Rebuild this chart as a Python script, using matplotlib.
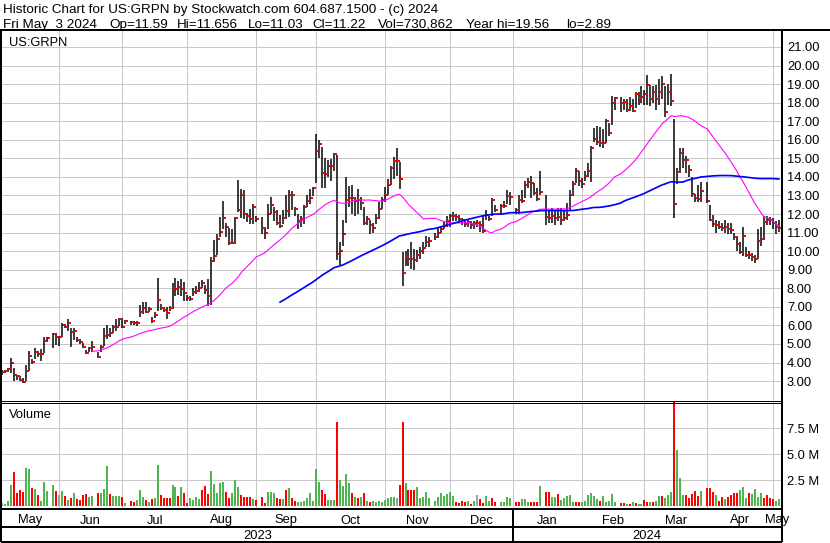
import numpy as np
import pandas as pd
import matplotlib
matplotlib.use('Agg')
import matplotlib.pyplot as plt
from matplotlib.lines import Line2D
from matplotlib import transforms

plt.rcParams['font.family'] = ['Liberation Sans', 'DejaVu Sans']

W, H = 830, 543

# market holidays: kept as empty weekday slots on the chart
holidays = ['2023-05-29', '2023-06-19', '2023-07-04', '2023-09-04', '2023-11-23',
            '2023-12-25', '2024-01-01', '2024-01-15', '2024-02-19', '2024-03-29']

# daily bars, May 5 2023 .. May 3 2024 (one line per month)
high = [
    3.60, 3.60, 3.70, 4.23, 3.70, 3.35, 3.25, 3.15, 3.85, 4.60, 4.20, 4.80, 4.60, 4.75, 5.40, 5.40, 5.59, 5.57,
    5.44, 6.13, 6.07, 6.34, 5.84, 5.84, 5.40, 5.26, 5.05, 4.67, 4.86, 5.14, 4.58, 4.94, 5.84, 6.02, 5.84, 6.02, 6.34, 6.40, 6.40,
    6.31, 6.25, 6.22, 6.25, 7.12, 7.24, 7.28, 6.97, 6.43, 6.70, 8.55, 7.15, 6.97, 7.00, 7.05, 8.30, 8.54, 8.40, 8.50, 8.32,
    7.65, 7.60, 8.00, 8.10, 8.32, 8.46, 8.20, 8.50, 9.70, 10.58, 10.90, 11.83, 12.68, 11.53, 11.26, 11.21, 11.85, 13.81, 13.36, 13.31, 12.07, 12.28, 12.55,
    11.89, 11.83, 11.30, 12.55, 12.91, 12.40, 12.19, 11.96, 12.19, 13.00, 13.27, 13.24, 12.37, 12.01, 11.92, 12.50, 13.00, 13.36, 13.45, 16.30,
    16.00, 15.60, 15.00, 14.90, 14.95, 15.30, 15.20, 10.50, 11.70, 13.98, 13.50, 13.54, 12.90, 13.36, 12.90, 12.37, 11.92, 11.66, 11.50, 12.00, 12.64, 12.90,
    13.45, 13.90, 14.60, 15.07, 15.55, 14.80, 9.95, 9.99, 10.10, 10.50, 10.13, 10.04, 10.20, 10.50, 10.80, 10.78, 11.00, 11.30, 11.33, 11.55, 11.90,
    12.00, 12.10, 12.00, 11.95, 11.80, 11.75, 11.70, 11.60, 11.65, 11.70, 11.60, 11.90, 12.20, 11.90, 12.85, 12.50, 12.55, 12.70, 13.30, 13.20,
    12.32, 13.04, 13.30, 13.76, 13.94, 14.05, 13.67, 13.40, 14.30, 13.04, 12.20, 12.34, 12.20, 12.34, 12.30, 12.20, 12.60, 13.30, 13.76, 14.50, 14.30,
    13.94, 14.30, 14.75, 15.65, 16.62, 16.76, 16.70, 16.60, 17.10, 16.90, 18.35, 18.30, 18.30, 18.20, 18.20, 18.30, 18.20, 18.60, 18.55, 18.90,
    18.70, 19.50, 18.95, 18.90, 18.95, 19.30, 19.45, 18.90, 19.00, 19.56, 17.10, 14.50, 15.54, 15.54, 15.10, 14.65, 14.00, 13.10, 13.55, 13.75,
    13.70, 12.50, 11.95, 11.70, 11.60, 11.50, 11.70, 11.50, 11.50, 11.00, 10.80, 10.50, 11.30, 10.20, 10.00, 9.90, 9.80, 11.20, 11.30, 11.90, 11.90, 11.85,
    11.80, 11.60, 11.656,
]
low = [
    3.35, 3.45, 3.50, 3.45, 2.98, 3.05, 3.00, 2.89, 2.98, 3.55, 3.90, 4.20, 4.30, 4.10, 4.50, 5.10, 4.76, 4.94,
    4.90, 5.37, 5.84, 5.71, 4.85, 5.20, 5.08, 5.00, 4.76, 4.45, 4.54, 4.54, 4.22, 4.58, 4.90, 5.26, 5.40, 5.59, 5.71, 5.98, 5.84,
    6.07, 6.02, 6.02, 5.95, 6.43, 6.61, 6.67, 6.70, 6.13, 6.38, 6.80, 6.85, 6.70, 6.34, 6.80, 6.88, 7.60, 7.64, 7.60, 7.33,
    7.33, 7.30, 7.60, 7.70, 7.80, 8.00, 7.70, 7.06, 7.10, 9.40, 9.80, 10.76, 11.21, 10.76, 10.31, 10.40, 10.40, 12.10, 11.78, 11.74, 11.57, 11.48, 11.48,
    11.57, 10.94, 10.67, 11.21, 12.01, 11.60, 11.39, 11.24, 11.48, 11.74, 11.83, 12.19, 11.92, 11.20, 11.30, 11.48, 12.37, 12.55, 12.95, 13.65,
    15.00, 13.40, 13.40, 14.00, 13.80, 14.30, 9.50, 9.25, 10.30, 11.50, 12.40, 12.01, 11.90, 12.00, 12.20, 11.39, 11.39, 10.94, 11.00, 11.48, 11.74, 12.28,
    12.64, 13.00, 13.54, 13.90, 14.07, 13.36, 8.10, 9.20, 9.20, 9.05, 9.00, 9.40, 9.60, 9.85, 10.20, 10.20, 10.60, 10.70, 11.00, 11.20, 11.30,
    11.30, 11.60, 11.60, 11.50, 11.40, 11.30, 11.30, 11.20, 11.20, 11.30, 11.05, 11.00, 11.70, 11.60, 11.90, 12.10, 11.95, 12.30, 12.55, 12.50,
    12.00, 12.00, 12.60, 12.86, 13.40, 12.86, 13.04, 12.68, 13.04, 11.42, 11.50, 11.50, 11.42, 11.60, 11.42, 11.60, 11.69, 12.20, 12.95, 13.67, 13.49,
    13.40, 13.80, 14.00, 13.70, 15.90, 15.70, 15.60, 15.55, 15.80, 16.20, 16.80, 17.60, 17.50, 17.60, 17.50, 17.55, 17.50, 17.70, 17.90, 18.00,
    17.90, 17.90, 17.80, 18.00, 17.60, 17.90, 18.20, 17.20, 17.90, 17.80, 11.80, 13.60, 14.20, 14.50, 14.20, 14.00, 12.90, 12.65, 12.65, 12.65,
    12.60, 11.60, 11.30, 11.00, 11.20, 11.10, 11.00, 10.90, 10.90, 10.60, 10.00, 9.85, 9.75, 9.70, 9.55, 9.45, 9.35, 9.60, 10.30, 10.60, 11.40, 11.40,
    11.20, 10.95, 11.03,
]
close = [
    3.49, 3.53, 3.63, 3.95, 3.31, 3.27, 3.05, 2.95, 3.55, 4.36, 4.04, 4.54, 4.45, 4.45, 5.17, 5.33, 5.55, 5.37,
    5.37, 6.04, 5.93, 6.13, 5.66, 5.71, 5.23, 5.08, 4.85, 4.50, 4.76, 4.86, 4.27, 4.81, 5.44, 5.50, 5.57, 5.91, 5.93, 6.34, 5.91,
    6.22, 6.20, 6.11, 6.13, 6.74, 6.92, 6.74, 6.88, 6.22, 6.56, 7.39, 6.96, 6.84, 6.66, 6.91, 7.99, 7.95, 8.08, 7.95, 7.74,
    7.50, 7.41, 7.81, 7.86, 8.00, 8.26, 7.92, 7.59, 9.49, 9.76, 10.66, 11.03, 11.78, 11.30, 10.45, 10.45, 11.78, 12.19, 13.00, 12.01, 11.89, 11.71, 12.36,
    11.74, 11.24, 10.99, 12.01, 12.46, 12.10, 11.53, 11.35, 11.78, 12.14, 13.00, 13.00, 12.25, 11.60, 11.71, 12.37, 12.70, 12.86, 13.40, 15.37,
    15.77, 14.23, 14.16, 14.56, 14.56, 15.24, 9.86, 9.99, 10.95, 12.75, 12.84, 12.88, 12.68, 12.77, 12.60, 11.50, 11.74, 11.42, 11.22, 11.78, 12.28, 12.77,
    13.00, 13.58, 14.49, 14.85, 14.85, 13.90, 8.84, 9.68, 9.60, 9.55, 9.50, 9.80, 9.99, 10.18, 10.49, 10.52, 10.78, 10.96, 11.21, 11.33, 11.60,
    11.89, 11.92, 11.83, 11.74, 11.66, 11.48, 11.55, 11.42, 11.50, 11.50, 11.42, 11.10, 11.94, 11.74, 12.77, 12.19, 12.45, 12.45, 12.95, 12.90,
    12.23, 12.77, 12.72, 13.58, 13.70, 13.67, 13.13, 12.82, 13.20, 11.83, 11.81, 11.87, 11.78, 11.83, 11.69, 11.78, 11.96, 13.04, 13.64, 14.34, 13.76,
    13.64, 14.06, 14.30, 15.56, 16.04, 15.90, 15.85, 15.80, 17.00, 16.36, 17.99, 18.26, 17.96, 18.01, 17.60, 17.84, 17.55, 18.45, 18.27, 18.30,
    18.45, 18.95, 18.20, 18.60, 18.20, 18.60, 19.00, 17.50, 18.55, 18.10, 12.55, 14.28, 15.30, 14.91, 14.91, 14.37, 13.08, 12.84, 12.79, 13.24,
    12.70, 11.69, 11.47, 11.40, 11.29, 11.24, 11.29, 11.20, 11.15, 10.76, 10.40, 9.93, 10.83, 9.80, 9.77, 9.71, 9.60, 10.56, 10.67, 11.55, 11.69, 11.69,
    11.50, 11.30, 11.22,
]
# volume in millions of shares
volume = [
    0.29, 0.20, 0.50, 2.05, 3.30, 1.25, 1.60, 1.40, 3.70, 3.60, 1.80, 1.70, 1.10, 0.50, 2.30, 1.50, 2.05, 1.50,
    1.10, 1.50, 1.00, 0.60, 0.80, 1.25, 0.70, 0.60, 1.10, 1.15, 0.90, 1.00, 1.25, 1.25, 1.70, 3.90, 1.20, 0.95, 0.95, 0.95, 0.85,
    0.30, 0.55, 0.40, 0.60, 1.60, 0.90, 0.60, 0.40, 0.70, 0.80, 4.00, 1.10, 0.80, 0.80, 0.80, 2.05, 1.90, 1.00, 1.85, 1.30,
    0.30, 0.80, 0.60, 0.90, 0.70, 1.55, 1.95, 1.20, 3.40, 2.10, 1.30, 2.20, 2.30, 1.40, 0.80, 1.30, 2.50, 1.90, 1.10, 0.85, 0.85, 0.85, 0.70,
    0.60, 0.93, 0.30, 1.40, 1.35, 1.30, 0.80, 0.70, 0.70, 1.55, 1.80, 0.80, 0.55, 0.45, 0.38, 0.50, 0.80, 1.30, 0.50, 3.60,
    2.30, 1.55, 1.15, 0.60, 0.60, 0.60, 8.10, 2.50, 2.00, 3.10, 2.20, 1.30, 0.90, 0.80, 0.90, 1.30, 0.50, 0.40, 0.50, 0.38, 0.50, 0.45,
    0.60, 0.80, 0.90, 0.90, 0.80, 2.05, 8.10, 2.25, 1.55, 1.57, 1.57, 1.90, 0.77, 0.93, 1.35, 0.83, 0.50, 0.93, 1.30, 1.00, 1.15,
    1.40, 1.00, 0.45, 0.32, 0.50, 0.38, 0.50, 0.26, 0.50, 1.10, 0.70, 0.29, 1.00, 0.50, 0.77, 0.38, 0.38, 0.38, 0.90, 0.77,
    0.45, 0.45, 0.70, 0.70, 0.45, 0.38, 0.38, 0.45, 2.00, 1.40, 1.40, 0.93, 0.93, 1.20, 0.60, 0.77, 1.00, 1.10, 0.45, 0.45, 0.45,
    0.38, 0.50, 1.10, 1.30, 0.96, 0.70, 0.50, 1.00, 0.45, 0.50, 1.20, 0.45, 0.35, 0.35, 0.26, 0.26, 0.38, 0.32, 0.26, 0.26,
    0.60, 0.42, 0.42, 0.42, 0.50, 1.00, 1.00, 0.77, 1.10, 1.40, 10.50, 5.40, 2.70, 1.10, 1.10, 0.83, 1.20, 1.47, 1.00, 1.47,
    1.80, 1.80, 1.40, 1.10, 0.50, 0.93, 0.70, 0.90, 1.10, 1.25, 1.25, 1.57, 1.90, 0.77, 1.25, 1.15, 1.63, 0.93, 1.25, 0.83, 1.10, 0.83,
    0.70, 0.50, 0.73,
]
# g = up day, r = down day, n = unchanged
vol_dir = ("ngggrrrrggrgrggggr"
           "ngrgrgrrrrggrgggrgggr"
           "grrgggrgrggrrrrggrgr"
           "rggggrrrgggggrrgggrrrrg"
           "rrrgggrrgrgrrggggggg"
           "grrgggrggggrgrgrgrgggg"
           "ggggnrrgrrrgggggggggg"
           "ggrrrrgrgnrrggrrgggg"
           "rrgggrrrgrrggrgggggrr"
           "ggggggrgggggrrgrgrgg"
           "rrgrggrgggrgggrrrrrg"
           "rrrgrrgrrrrgggrggggrrrrgg")

# header line 2: (text, x pixel)
quote_fields = [('Fri May  3 2024', 3), ('Op=11.59', 109), ('Hi=11.656', 177),
                ('Lo=11.03', 248), ('Cl=11.22', 312), ('Vol=730,862', 378),
                ('Year hi=19.56', 466), ('lo=2.89', 566)]

# x position = weekday slot, holidays stay empty
slots = pd.bdate_range('2023-05-03', '2024-05-03')
days = pd.bdate_range('2023-05-05', '2024-05-03')
days = days[~days.isin(pd.to_datetime(holidays))]
x = slots.get_indexer(days)

ma30 = pd.Series(close).rolling(30).mean()
ma90 = pd.Series(close).rolling(90).mean()

month_starts = pd.date_range('2023-06-01', '2024-05-01', freq='MS')
bounds = slots.searchsorted(month_starts, side='right') - 1
xl = (1.92, 262.7)

grid_c = '#c8c8c8'
fs = 9.3


def px(lw):
    return lw * 0.72


fig = plt.figure(figsize=(W / 100, H / 100), dpi=100)


def px_axes(x0, y0, x1, y1):
    return fig.add_axes([x0 / W, 1 - y1 / H, (x1 - x0) / W, (y1 - y0) / H])


def fig_line(x0, y0, x1, y1, lw):
    fig.add_artist(Line2D([x0 / W, x1 / W], [1 - y0 / H, 1 - y1 / H], color='black',
                          lw=px(lw), solid_capstyle='butt', transform=fig.transFigure))


def fig_text(x0, y0, s, size=fs):
    fig.text(x0 / W, 1 - y0 / H, s, fontsize=size, va='baseline')


ax = px_axes(2, 31, 781, 400)
axv = px_axes(2, 402, 781, 508)
axm = px_axes(2, 508, 781, 541)

# ---- price panel
ax.vlines(x, low, high, color='black', lw=px(1.5), zorder=3)
ax.hlines(close, x + 0.3, x + 1.0, color='red', lw=px(2.0), zorder=4, antialiased=False)
ax.plot(x, ma30, color='#ff00ff', lw=px(1.1), zorder=5)
ax.plot(x, ma90, color='#0000ff', lw=px(1.7), zorder=5)
ax.set_xlim(*xl)
ax.set_ylim(1.98, 21.86)
ax.set_yticks(range(3, 22))
ax.yaxis.set_major_formatter('{x:.2f}')
ax.yaxis.tick_right()
ax.set_xticks(bounds)
ax.tick_params(axis='x', length=0, labelbottom=False)
ax.tick_params(axis='y', length=0, pad=4.3, labelsize=fs)
ax.grid(True, color=grid_c, lw=px(1.0), zorder=0)

# ---- volume panel
cmap = {'g': '#50b450', 'r': '#ff0000', 'n': '#a0a0a0'}
axv.bar(x, volume, width=0.67, color=[cmap[d] for d in vol_dir], zorder=3, antialiased=False)
axv.set_xlim(*xl)
axv.set_ylim(-0.16, 10.03)
axv.set_yticks([2.5, 5.0, 7.5])
axv.set_yticklabels(['2.5 M', '5.0 M', '7.5 M'])
axv.yaxis.tick_right()
axv.set_xticks(bounds)
axv.tick_params(axis='x', length=0, labelbottom=False)
axv.tick_params(axis='y', length=0, pad=4.3, labelsize=fs)
axv.grid(True, color=grid_c, lw=px(1.0), zorder=0)

# ---- month / year rows
axm.set_xlim(*xl)
axm.set_ylim(0, 1)
axm.set_xticks([])
axm.set_yticks([])
edges = [xl[0]] + list(bounds) + [xl[1]]
names = ['May'] + [d.strftime('%b') for d in month_starts]
tr = transforms.blended_transform_factory(axm.transData, fig.transFigure)
for a, b, n in zip(edges[:-1], edges[1:], names):
    axm.text((a + b) / 2, 1 - 523.5 / H, n, transform=tr, ha='center', va='baseline', fontsize=fs)
jan = bounds[list(month_starts.month).index(1)]
for a, b, n in [(xl[0], jan, '2023'), (jan, xl[1], '2024')]:
    axm.text((a + b) / 2, 1 - 539 / H, n, transform=tr, ha='center', va='baseline', fontsize=fs)
axm.plot([jan, jan], [0, 1], color='black', lw=px(2),
         transform=transforms.blended_transform_factory(axm.transData, axm.transAxes))

for a in (ax, axv, axm):
    for s in a.spines.values():
        s.set_visible(False)

# ---- frame
fig_line(0, 30, W, 30, 2)
fig_line(1, 29, 1, 542, 2)
fig_line(781.5, 29, 781.5, 542, 2)
fig_line(1, 400.5, 782, 400.5, 1)
fig_line(1, 402.5, 782, 402.5, 1)
fig_line(1, 508.5, 782, 508.5, 2)
fig_line(1, 527, 782, 527, 2)
fig_line(1, 541.5, 782, 541.5, 2)

# ---- texts
fig_text(3, 12.7, 'Historic Chart for US:GRPN by Stockwatch.com 604.687.1500 - (c) 2024', 9.7)
for s, px0 in quote_fields:
    fig_text(px0, 27.6, s, 9.7)
fig_text(9, 45.5, 'US:GRPN')
fig_text(9, 417.5, 'Volume')

fig.savefig('out.png', dpi=100)
